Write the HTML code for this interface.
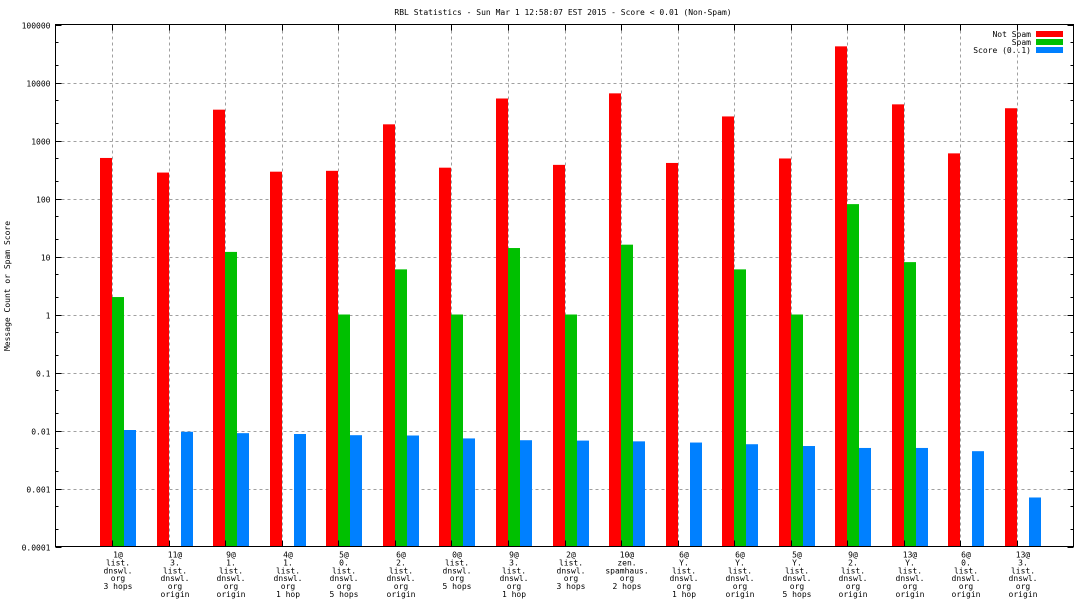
<!DOCTYPE html>
<html><head><meta charset="utf-8"><style>
body{margin:0;background:#fff}
svg{display:block;font-family:"DejaVu Sans Mono","Liberation Mono",monospace;font-size:8px}
</style></head><body>
<svg id="chart" width="1088" height="612" viewBox="0 0 1088 612">
<text x="563" y="15" text-anchor="middle">RBL Statistics - Sun Mar  1 12:58:07 EST 2015 - Score &lt; 0.01 (Non-Spam)</text>
<text transform="translate(10,286) rotate(-90)" text-anchor="middle">Message Count or Spam Score</text>
<g id="grid"></g><g id="bars"></g><g id="axes"></g>
<g>
<text x="1031" y="37" text-anchor="end">Not Spam</text><rect x="1036" y="31" width="27" height="6" fill="#ff0000"/>
<text x="1031" y="45" text-anchor="end">Spam</text><rect x="1036" y="39" width="27" height="6" fill="#00c000"/>
<text x="1031" y="53" text-anchor="end">Score (0..1)</text><rect x="1036" y="47" width="27" height="6" fill="#0080ff"/>
</g>
</svg>
<script>
const categories=[["1@","list.","dnswl.","org","3 hops"],["11@","3.","list.","dnswl.","org","origin"],["9@","1.","list.","dnswl.","org","origin"],["4@","1.","list.","dnswl.","org","1 hop"],["5@","0.","list.","dnswl.","org","5 hops"],["6@","2.","list.","dnswl.","org","origin"],["0@","list.","dnswl.","org","5 hops"],["9@","3.","list.","dnswl.","org","1 hop"],["2@","list.","dnswl.","org","3 hops"],["10@","zen.","spamhaus.","org","2 hops"],["6@","Y.","list.","dnswl.","org","1 hop"],["6@","Y.","list.","dnswl.","org","origin"],["5@","Y.","list.","dnswl.","org","5 hops"],["9@","2.","list.","dnswl.","org","origin"],["13@","Y.","list.","dnswl.","org","origin"],["6@","0.","list.","dnswl.","org","origin"],["13@","3.","list.","dnswl.","org","origin"]];
const notSpam=[500,280,3400,290,300,1900,340,5300,380,6500,410,2600,490,42000,4200,600,3600];
const spam=[2,null,12,null,1,6,1,14,1,16,null,6,1,80,8,null,null];
const score=[0.0102,0.0095,0.009,0.0087,0.0083,0.0082,0.0073,0.0068,0.0067,0.0065,0.0062,0.0058,0.0054,0.005,0.005,0.0044,0.0007];
const yTicks=[0.0001,0.001,0.01,0.1,1,10,100,1000,10000,100000];
const yTickLabels=["0.0001","0.001","0.01","0.1","1","10","100","1000","10000","100000"];
const L=55.5,R=1073.5,T=24.5,B=546.5;
const NS="http://www.w3.org/2000/svg";
function y(v){return B-(Math.log10(v)+4)/9*(B-T);}
function x(i){return L+(i+1)*(R-L)/18;}
function mk(p,tag,a){const e=document.createElementNS(NS,tag);for(const k in a)e.setAttribute(k,a[k]);p.appendChild(e);return e;}
const grid=document.getElementById('grid'),bars=document.getElementById('bars'),axes=document.getElementById('axes');
yTicks.forEach((t,k)=>{const yy=Math.round(y(t))+0.5;
 if(k>0&&k<yTicks.length-1){const g=mk(grid,'line',{x1:L,x2:R,y1:yy,y2:yy,stroke:'#a0a0a0','stroke-dasharray':'3,3'});
 
 }
 const tl=mk(axes,'line',{x1:L,x2:L+6,y1:yy,y2:yy,stroke:'#000'});
 
 
 const tr=mk(axes,'line',{x1:R-6,x2:R,y1:yy,y2:yy,stroke:'#000'});
 
 
 const tx=mk(axes,'text',{x:L-5,y:yy+3,'text-anchor':'end'});tx.textContent=yTickLabels[k];
 
 
 if(k<yTicks.length-1){[2,5].forEach(m=>{const my=Math.round(y(t*m))+0.5;
  const a=mk(axes,'line',{x1:L,x2:L+3,y1:my,y2:my,stroke:'#000'});
  
  
  const b=mk(axes,'line',{x1:R-3,x2:R,y1:my,y2:my,stroke:'#000'});
  
  });}
});
categories.forEach((c,i)=>{const xx=Math.round(x(i))+0.5;
 const g=mk(grid,'line',{x1:xx,x2:xx,y1:T,y2:B,stroke:'#a0a0a0','stroke-dasharray':'3,3'});
 
 
 const t1=mk(axes,'line',{x1:xx,x2:xx,y1:T,y2:T+6,stroke:'#000'});
 
 
 const t2=mk(axes,'line',{x1:xx,x2:xx,y1:B-6,y2:B,stroke:'#000'});
 
 
 const bx=Math.round(x(i));
 [[notSpam,'#ff0000','bar-not-spam',-12],[spam,'#00c000','bar-spam',0],[score,'#0080ff','bar-score',12]].forEach(([arr,col,nm,off])=>{
  const v=arr[i];if(v==null)return;const top=y(v);
  const r=mk(bars,'rect',{x:bx+off,y:top,width:12,height:B-top,fill:col});
  
  
 });
 const lab=mk(axes,'text',{x:bx+6,y:B+11,'text-anchor':'middle'});
 
 
 c.forEach((s,j)=>{const ts=mk(lab,'tspan',{x:bx+6,dy:j?7.9:0});ts.textContent=s;});
});
const fr=mk(axes,'rect',{x:L,y:T,width:R-L,height:B-T,fill:'none',stroke:'#000'});


</script>
</body></html>
